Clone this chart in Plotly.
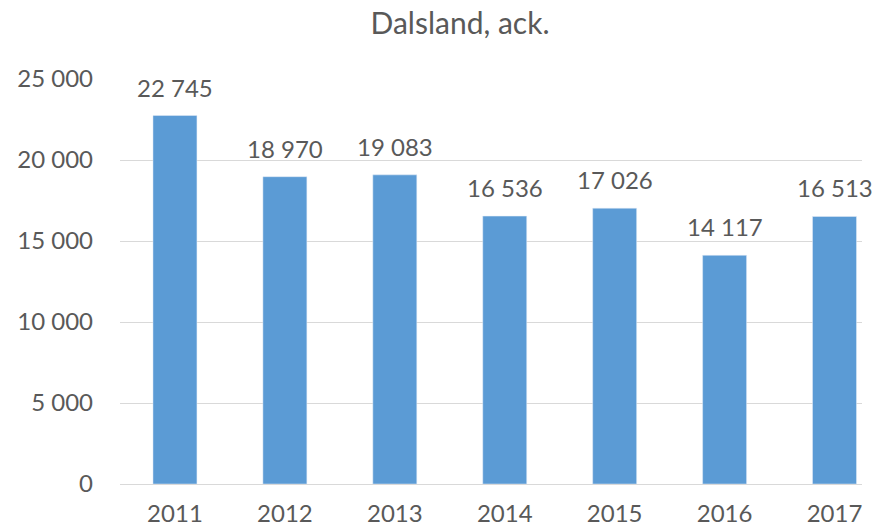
import plotly.graph_objects as go

years = ["2011", "2012", "2013", "2014", "2015", "2016", "2017"]
values = [22745, 18970, 19083, 16536, 17026, 14117, 16513]
y_ticks = [0, 5000, 10000, 15000, 20000, 25000]

font_family = "Lato, Carlito, 'Liberation Sans', sans-serif"
grey = "#595959"

fig = go.Figure(go.Bar(
    x=years, y=values,
    marker_color="#5B9BD5",
))

for i, (yr, v) in enumerate(zip(years, values)):
    fig.add_annotation(
        x=i, y=v, xref="x", yref="y",
        text=f"{v:,}".replace(",", " "),
        showarrow=False, yanchor="bottom", yshift=12,
        font=dict(size=24, color=grey, family=font_family),
    )

fig.update_layout(
    width=873, height=529,
    margin=dict(l=120, r=11, t=79, b=45),
    paper_bgcolor="white", plot_bgcolor="white",
    separators=", ",
    bargap=0.6,
    showlegend=False,
    title=dict(text="Dalsland, ack.", x=460 / 873, xanchor="center", y=0.955, yanchor="middle",
               xref="container",
               font=dict(size=30, color=grey, family=font_family)),
    font=dict(family=font_family, color=grey),
)
fig.update_xaxes(
    type="category",
    range=[-0.5, 6.25], showgrid=False, showline=False, ticks="",
    tickfont=dict(size=24, color=grey), ticklabelstandoff=13, automargin=False,
)
fig.update_yaxes(
    range=[0, 25000], tickvals=y_ticks, tickformat=",d",
    showgrid=True, gridcolor="#D9D9D9", gridwidth=1,
    zeroline=True, zerolinecolor="#D9D9D9", zerolinewidth=1,
    showline=False, ticks="", tickfont=dict(size=24, color=grey),
    ticklabelstandoff=26, automargin=False,
)

fig.write_html(
    "out.html",
    config={"displayModeBar": False},
    post_script="document.body.style.margin='0';document.body.style.padding='0';",
)
